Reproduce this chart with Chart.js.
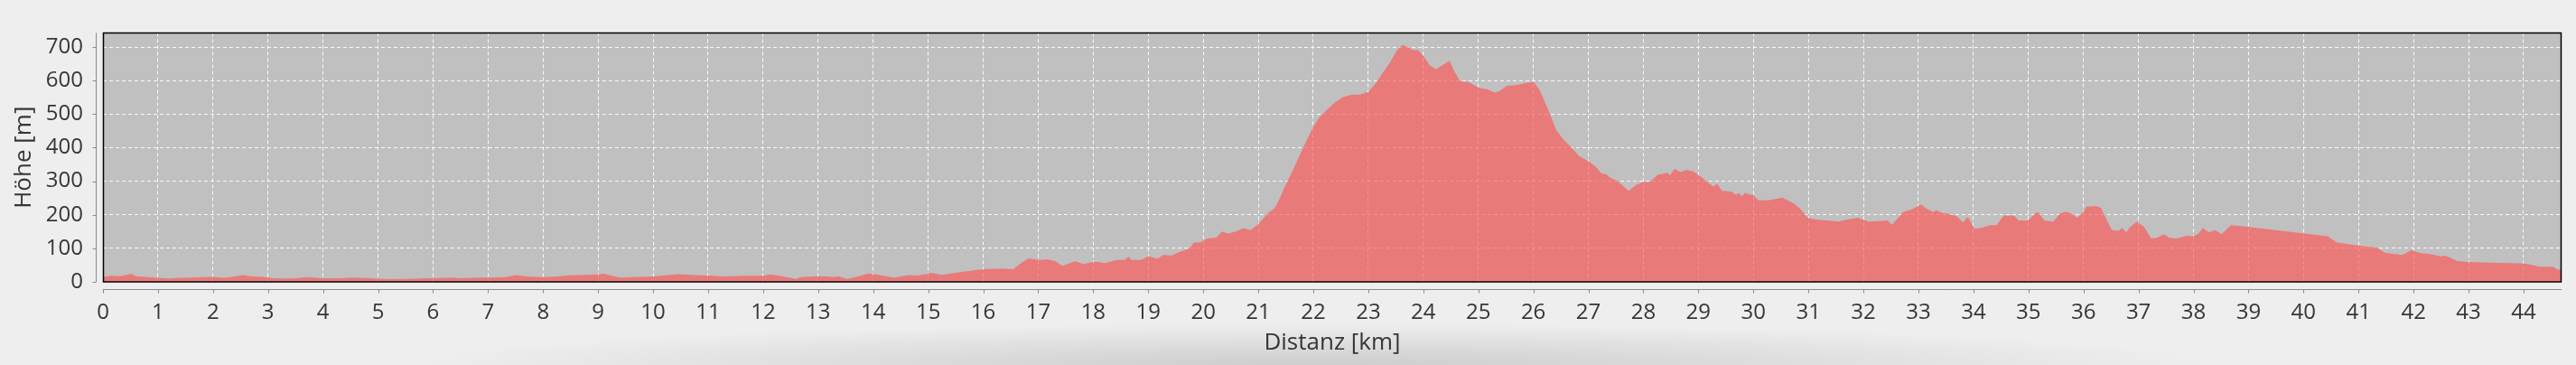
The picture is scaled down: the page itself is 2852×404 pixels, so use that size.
<!DOCTYPE html>
<html>
<head>
<meta charset="utf-8">
<script src="https://cdn.jsdelivr.net/npm/chart.js@4/dist/chart.umd.min.js"></script>
<style>
  html, body { margin: 0; padding: 0; }
  body {
    width: 2852px; height: 404px; overflow: hidden;
    background: radial-gradient(ellipse 1000px 46px at 1455px 404px, rgba(0,0,0,0.14), rgba(0,0,0,0) 100%), #eeeeee;
  }
  canvas { display: block; }
</style>
</head>
<body>
<canvas id="c" width="2852" height="404"></canvas>
<script>
// Distance along the route (km)
const distanceKm = [
  0, 0.16, 0.27, 0.38, 0.52, 0.6, 0.77, 1.0, 1.2, 1.37, 1.58, 1.8, 2.0, 2.19, 2.35, 2.54, 2.73, 2.9,
  3.11, 3.33, 3.5, 3.72, 4.0, 4.32, 4.54, 4.86, 5.19, 5.52, 5.85, 6.0, 6.34, 6.5, 6.83, 7.0, 7.32, 7.51, 7.7,
  8.0, 8.25, 8.41, 8.63, 9.0, 9.1, 9.4, 9.72, 10.0, 10.44, 10.76, 11.0, 11.31, 11.64, 12.0, 12.13, 12.35,
  12.6, 12.68, 13.0, 13.17, 13.28, 13.36, 13.53, 13.72, 13.91, 14.1, 14.38, 14.65, 14.81, 14.98, 15.06,
  15.25, 15.58, 15.85, 16.0, 16.35, 16.55, 16.68, 16.82, 17.01, 17.17, 17.31, 17.44, 17.67, 17.83, 17.99,
  18.1, 18.21, 18.43, 18.57, 18.64, 18.7, 18.87, 19.0, 19.17, 19.28, 19.42, 19.58, 19.74, 19.83, 19.94,
  20.07, 20.24, 20.34, 20.45, 20.59, 20.73, 20.86, 21.0, 21.06, 21.17, 21.3, 21.38, 21.49, 21.66, 21.82,
  21.99, 22.1, 22.21, 22.37, 22.53, 22.7, 22.84, 23.0, 23.14, 23.25, 23.38, 23.52, 23.62, 23.74, 23.82,
  23.9, 23.98, 24.12, 24.23, 24.34, 24.48, 24.56, 24.67, 24.83, 25.01, 25.16, 25.3, 25.38, 25.52, 25.71,
  25.87, 26.01, 26.12, 26.26, 26.42, 26.56, 26.69, 26.83, 27.0, 27.13, 27.24, 27.32, 27.41, 27.52, 27.73,
  27.88, 28.01, 28.12, 28.26, 28.45, 28.48, 28.57, 28.67, 28.79, 28.91, 29.05, 29.16, 29.27, 29.34, 29.43,
  29.6, 29.68, 29.74, 29.79, 29.85, 29.93, 29.99, 30.09, 30.26, 30.53, 30.75, 30.86, 30.99, 31.13, 31.35,
  31.54, 31.71, 31.9, 32.09, 32.34, 32.44, 32.52, 32.72, 32.88, 33.05, 33.13, 33.27, 33.32, 33.43, 33.54,
  33.7, 33.81, 33.9, 34.02, 34.14, 34.3, 34.42, 34.55, 34.74, 34.82, 34.99, 35.13, 35.18, 35.29, 35.45,
  35.56, 35.67, 35.78, 35.88, 35.95, 36.06, 36.23, 36.32, 36.44, 36.52, 36.64, 36.7, 36.78, 36.84, 36.97,
  37.1, 37.23, 37.33, 37.47, 37.56, 37.7, 37.88, 37.99, 38.08, 38.17, 38.28, 38.4, 38.51, 38.68, 38.94,
  40.44, 40.61, 40.79, 40.96, 41.16, 41.33, 41.48, 41.6, 41.79, 41.97, 42.11, 42.34, 42.49, 42.57, 42.66,
  42.8, 43.0, 43.38, 43.98, 44.07, 44.3, 44.53, 44.62, 44.69
];

// Elevation (m)
const elevationM = [
  15, 18, 17, 19, 24, 17, 15, 12, 10, 12, 13, 14, 15, 12, 15, 20, 16, 15,
  11, 10, 11, 14, 11, 11, 13, 11, 8, 9, 11, 11, 13, 11, 13, 13, 14, 20, 16,
  14, 16, 19, 20, 22, 24, 13, 15, 16, 23, 20, 19, 16, 18, 18, 22, 17,
  9, 14, 17, 16, 14, 17, 9, 16, 25, 21, 13, 20, 19, 24, 27,
  21, 29, 35, 38, 40, 38, 55, 70, 65, 67, 62, 48, 61, 53, 59,
  59, 56, 65, 65, 75, 65, 65, 77, 69, 81, 78, 90, 98, 118, 117,
  129, 132, 150, 144, 150, 160, 154, 172, 183, 204, 220, 245, 286, 344, 401,
  459, 488, 507, 532, 550, 558, 558, 566, 593, 620, 650, 690, 706, 698, 690,
  692, 678, 645, 634, 645, 659, 628, 598, 595, 578, 574, 564, 568, 584, 587,
  593, 596, 570, 517, 451, 422, 401, 375, 360, 344, 323, 321, 309, 302, 271,
  290, 298, 298, 319, 325, 317, 337, 327, 334, 329, 313, 298, 284, 293, 271,
  269, 260, 265, 255, 265, 260, 260, 243, 243, 251, 232, 216, 191, 186, 183,
  180, 186, 191, 180, 182, 183, 170, 208, 216, 231, 220, 208, 214, 205, 203,
  195, 177, 194, 158, 161, 169, 169, 197, 197, 183, 183, 205, 208, 183, 179,
  202, 209, 204, 191, 199, 224, 226, 220, 179, 154, 152, 161, 148, 162, 180,
  164, 129, 131, 142, 131, 129, 138, 136, 142, 160, 148, 154, 142, 169, 165,
  136, 117, 113, 109, 105, 102, 87, 84, 80, 95, 86, 82, 76, 78, 73,
  62, 59, 57, 55, 53, 45, 45, 37, 37
];

const xAxisMax = 44.69;
const yAxisMax = 742;
const xTitle = 'Distanz [km]';
const yTitle = 'Höhe [m]';

const points = distanceKm.map((d, i) => ({ x: d, y: elevationM[i] }));

const TEXT = '#363636';
const FONT = '"Open Sans", "Noto Sans", "DejaVu Sans", sans-serif';

const plotDecor = {
  id: 'plotDecor',
  beforeDraw(chart) {
    const { ctx, chartArea: a } = chart;
    ctx.save();
    ctx.fillStyle = '#c0c0c0';
    ctx.fillRect(a.left, a.top, a.right - a.left, a.bottom - a.top);
    ctx.restore();
  },
  afterDraw(chart) {
    const { ctx, chartArea: a, scales } = chart;
    ctx.save();
    // plot border
    ctx.strokeStyle = '#000';
    ctx.lineWidth = 1.5;
    ctx.strokeRect(Math.round(a.left) + 0.5, Math.round(a.top) + 0.5,
                   Math.round(a.right - a.left) - 1, Math.round(a.bottom - a.top) - 0.5);
    // offset axis lines with ticks
    ctx.strokeStyle = '#8a8a8a';
    ctx.lineWidth = 1;
    const ay = Math.round(a.bottom) + 8.5;
    ctx.beginPath();
    ctx.moveTo(a.left, ay); ctx.lineTo(a.right, ay);
    scales.x.ticks.forEach(t => {
      const px = Math.round(scales.x.getPixelForValue(t.value)) + 0.5;
      ctx.moveTo(px, ay); ctx.lineTo(px, ay + 4);
    });
    const ax = Math.round(a.left) - 7.5;
    ctx.moveTo(ax, a.top); ctx.lineTo(ax, a.bottom);
    scales.y.ticks.forEach(t => {
      const py = Math.round(scales.y.getPixelForValue(t.value)) + 0.5;
      ctx.moveTo(ax, py); ctx.lineTo(ax - 4, py);
    });
    ctx.stroke();
    ctx.restore();
  }
};

new Chart(document.getElementById('c'), {
  type: 'line',
  data: {
    datasets: [{
      data: points,
      fill: 'origin',
      backgroundColor: 'rgba(255,85,85,0.65)',
      borderWidth: 0,
      borderColor: 'rgba(0,0,0,0)',
      pointRadius: 0,
      tension: 0
    }]
  },
  options: {
    responsive: false,
    animation: false,
    devicePixelRatio: 1,
    layout: { padding: { top: 12, right: 16, left: 0, bottom: 0 } },
    plugins: { legend: { display: false }, tooltip: { enabled: false } },
    scales: {
      x: {
        type: 'linear',
        min: 0,
        max: xAxisMax,
        afterFit(s) { s.height = 92; },
        ticks: {
          stepSize: 1, autoSkip: false, maxRotation: 0, includeBounds: false,
          color: TEXT, padding: 20,
          font: { family: FONT, size: 24 }
        },
        grid: { color: 'rgba(255,255,255,0.9)', lineWidth: 1, drawTicks: false },
        border: { display: false, dash: [4, 3] },
        title: {
          display: true, text: xTitle, color: TEXT,
          font: { family: FONT, size: 26 },
          padding: { top: 0, bottom: 9 }
        }
      },
      y: {
        type: 'linear',
        min: 0,
        max: yAxisMax,
        afterFit(s) { s.width = 114; },
        ticks: {
          stepSize: 100, includeBounds: false,
          color: TEXT, padding: 22,
          font: { family: FONT, size: 24 }
        },
        grid: { color: 'rgba(255,255,255,0.9)', lineWidth: 1, drawTicks: false },
        border: { display: false, dash: [4, 3] },
        title: {
          display: true, text: yTitle, color: TEXT,
          font: { family: FONT, size: 26 },
          padding: { top: 11, bottom: 0 }
        }
      }
    }
  },
  plugins: [plotDecor]
});
</script>
</body>
</html>
